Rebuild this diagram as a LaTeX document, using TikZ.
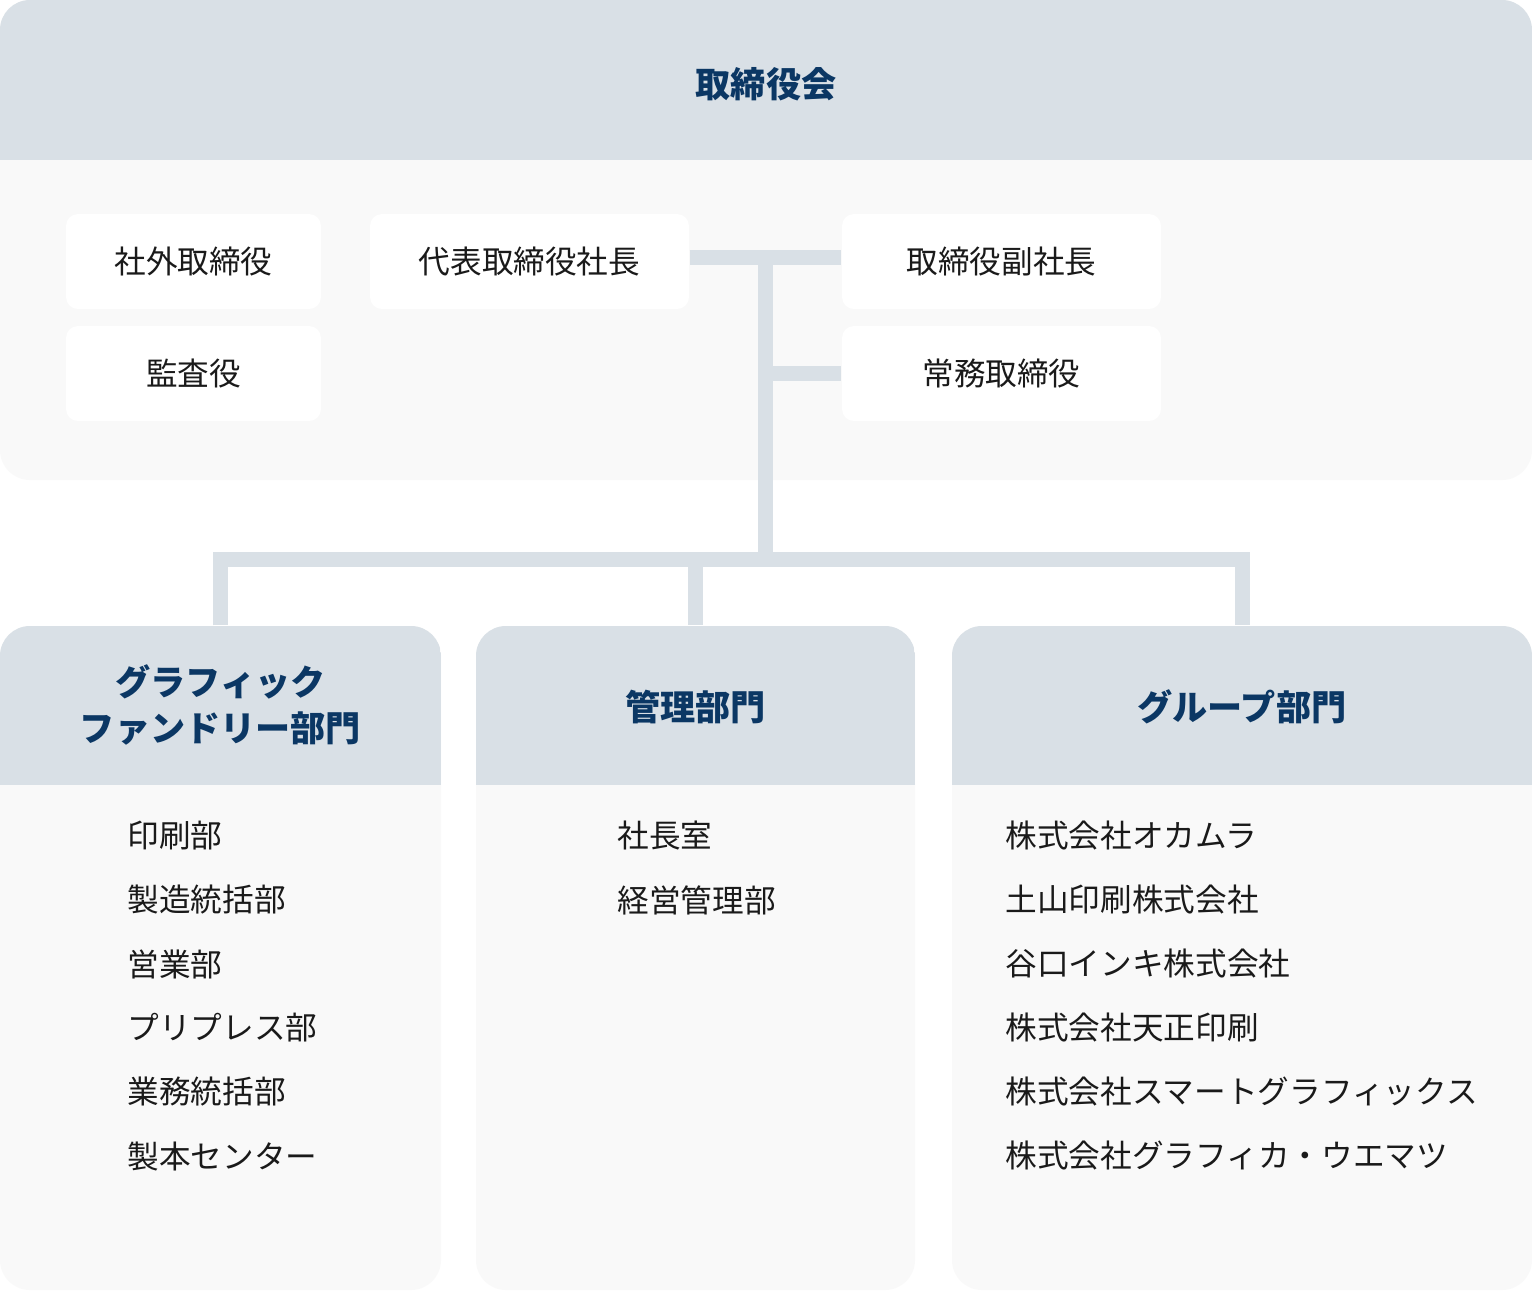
\documentclass[tikz,border=0pt]{standalone}
\usepackage{fontspec}
\setmainfont{Noto Sans CJK JP}
\usetikzlibrary{calc}
\definecolor{bandgray}{HTML}{D9E0E6}
\definecolor{panelgray}{HTML}{F9F9F9}
\definecolor{navy}{HTML}{0B3764}
\definecolor{inkgray}{HTML}{1A1A1A}

\begin{document}
\begin{tikzpicture}[
  panel/.style={fill=panelgray, rounded corners=0.3cm, inner sep=0pt,
    path picture={\fill[bandgray, sharp corners] (path picture bounding box.north west)
      rectangle ([yshift=-#1]path picture bounding box.north east);}},
  head/.style={text=navy, align=center, font=\fontsize{10}{13}\selectfont\bfseries},
  member/.style={fill=white, rounded corners=0.12cm, minimum height=0.95cm,
    text=inkgray, font=\fontsize{9}{11}\selectfont},
  item/.style={anchor=west, inner sep=0pt, text=inkgray, font=\fontsize{9}{11}\selectfont},
  link/.style={draw=bandgray, line width=0.15cm}
]
  \fill[white] (0,0) rectangle (15.32,-12.92);
  \useasboundingbox (0,0) rectangle (15.32,-12.92);

  % board of directors
  \node[panel=1.60cm, minimum width=15.32cm, minimum height=4.80cm] (board) at (7.66,-2.40) {};
  \node[head] (boardhead) at ([yshift=-0.85cm]board.north) {取締役会};
  \node[member, minimum width=2.55cm] (outside) at (1.935,-2.615) {社外取締役};
  \node[member, minimum width=2.55cm] (auditor) at (1.935,-3.735) {監査役};
  \node[member, minimum width=3.19cm] (pres) at (5.295,-2.615) {代表取締役社長};
  \node[member, minimum width=3.19cm] (vp) at (10.015,-2.615) {取締役副社長};
  \node[member, minimum width=3.19cm] (exec) at (10.015,-3.735) {常務取締役};

  % divisions
  \node[panel=1.59cm, minimum width=4.41cm, minimum height=6.64cm] (gf) at (2.205,-9.58) {};
  \node[panel=1.59cm, minimum width=4.39cm, minimum height=6.64cm] (mg) at (6.955,-9.58) {};
  \node[panel=1.59cm, minimum width=5.80cm, minimum height=6.64cm] (grp) at (12.42,-9.58) {};
  \node[head] (gfhead) at ([yshift=-0.795cm]gf.north) {グラフィック\\ファンドリー部門};
  \node[head] (mghead) at ([yshift=-0.815cm]mg.north) {管理部門};
  \node[head] (grphead) at ([yshift=-0.815cm]grp.north) {グループ部門};

  \foreach \txt [count=\i] in {印刷部,製造統括部,営業部,プリプレス部,業務統括部,製本センター}
    \node[item] (gf\i) at (1.27,{-7.72-0.64*\i}) {\txt};
  \foreach \txt [count=\i] in {社長室,経営管理部}
    \node[item] (mg\i) at (6.17,{-7.72-0.64*\i}) {\txt};
  \foreach \txt [count=\i] in {株式会社オカムラ,土山印刷株式会社,谷口インキ株式会社,株式会社天正印刷,
      株式会社スマートグラフィックス,株式会社グラフィカ・ウエマツ}
    \node[item] (grp\i) at (10.05,{-7.72-0.64*\i}) {\txt};

  % connectors
  \coordinate (j1) at ($(pres.east)!0.5!(vp.west)+(0,0.045)$);
  \coordinate (bus) at ($(j1)+(0,-3.025)$);
  \draw[link] (pres.east |- j1) -- (vp.west |- j1);
  \draw[link] (j1) -- (bus);
  \draw[link] (j1 |- exec.west) -- (exec.west);
  \draw[link] (gf.north) |- (bus) -| (grp.north);
  \draw[link] (bus -| mg.north) -- (mg.north);
\end{tikzpicture}
\end{document}
